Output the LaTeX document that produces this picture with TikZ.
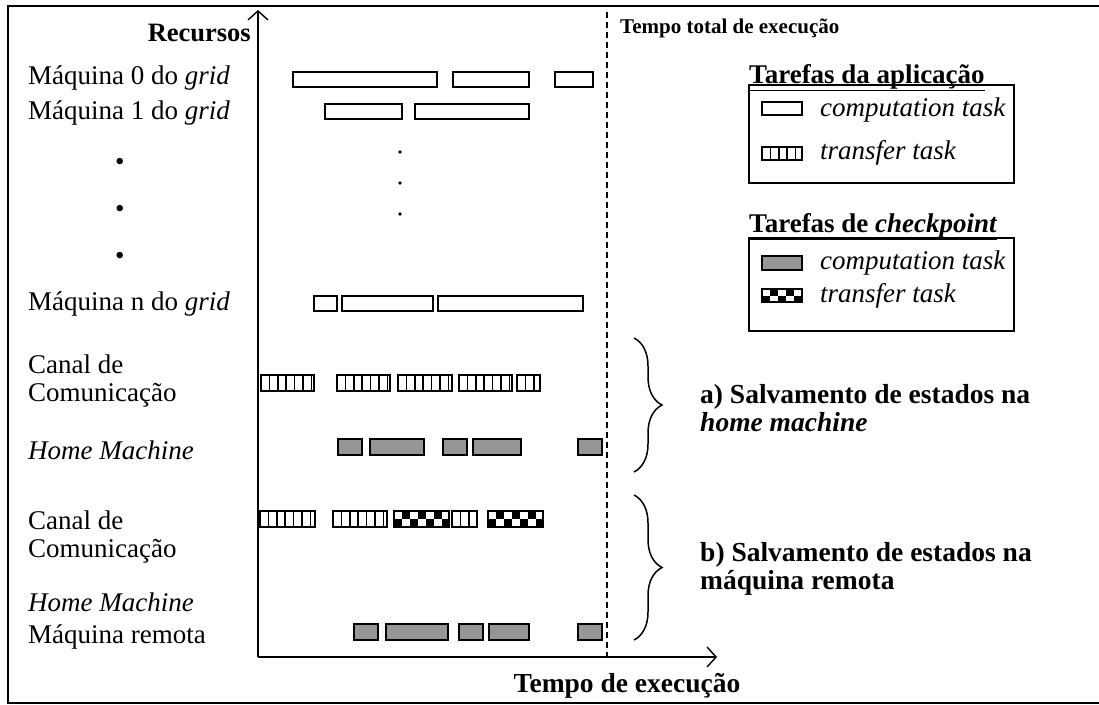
\documentclass[tikz,border=0pt]{standalone}
\usepackage{fontspec}
\setmainfont{Liberation Serif}
\usetikzlibrary{decorations.pathreplacing,arrows.meta}
\definecolor{taskgray}{RGB}{150,150,150}
\newcommand{\stripebox}[4]{%
  \begin{scope}
    \clip (#1,#2) rectangle (#3,#4);
    \foreach \k in {1,...,12}{\draw[line width=1.6pt] ({#1+\k*8.4},#2) -- ({#1+\k*8.4},#4);}
  \end{scope}
  \draw[taskline] (#1,#2) rectangle (#3,#4);}
\newcommand{\chkbox}[4]{%
  \begin{scope}
    \clip (#1,#2) rectangle (#3,#4);
    \foreach \k in {0,...,9}{\foreach \j in {0,1}{%
      \pgfmathtruncatemacro\cpar{mod(\k+\j,2)}%
      \ifnum\cpar=1 \fill ({#1+\k*8},{#2+\j*(#4-#2)/2}) rectangle ({#1+\k*8+8},{#2+(\j+1)*(#4-#2)/2});\fi}}
  \end{scope}
  \draw[taskline] (#1,#2) rectangle (#3,#4);}
\newcommand{\compbox}[4]{\draw[taskline] (#1,#2) rectangle (#3,#4);}
\newcommand{\graybox}[4]{\draw[taskline,fill=taskgray] (#1,#2) rectangle (#3,#4);}
\begin{document}
\begin{tikzpicture}[x=1pt,y=-1pt,
  taskline/.style={line width=1.7pt},
  lab/.style={anchor=west,inner sep=0pt,font=\fontsize{27}{27.5}\selectfont,align=left},
  blab/.style={anchor=west,inner sep=0pt,font=\bfseries\fontsize{27.5}{27.5}\selectfont,align=left},
  leg/.style={anchor=west,inner sep=0pt,font=\itshape\fontsize{27}{27}\selectfont},
  ttl/.style={anchor=base west,inner sep=0pt,font=\bfseries\fontsize{27}{27}\selectfont},
  axis/.style={line width=1.6pt,-{Straight Barb[length=9pt,width=20pt,line width=1.4pt]}},
  dotn/.style={circle,fill,inner sep=1.4pt},
  brc/.style={line width=1.5pt,decorate,decoration={brace,amplitude=28pt}}]
\useasboundingbox (0,0) rectangle (1099,704);
% frame
\draw[line width=1.5pt] (1110,6) -- (8,6) -- (8,703) -- (1110,703);
% axes
\coordinate (O) at (258,657);
\coordinate (ytip) at (258,10);
\coordinate (xtip) at (717,657);
\draw[axis] (O) -- (ytip);
\draw[axis] (O) -- (xtip);
\coordinate (dtop) at (607,12);
\coordinate (dbot) at (607,657);
\draw[line width=1.3pt,dash pattern=on 6pt off 4pt] (dtop) -- (dbot);
% axis labels
\node[anchor=east,inner sep=0pt,font=\bfseries\fontsize{26.5}{27}\selectfont] (rec) at (251,33) {Recursos};
\node[anchor=west,inner sep=0pt,font=\bfseries\fontsize{21}{22}\selectfont] (ttot) at (620,28) {Tempo total de execução};
\node[inner sep=0pt,font=\bfseries\fontsize{27.5}{28}\selectfont] (tex) at (627,686) {Tempo de execução};
% left labels
\node[lab] (m0) at (28,78) {Máquina 0 do \textit{grid}};
\node[lab] (m1) at (28,113) {Máquina 1 do \textit{grid}};
\node[lab] (b1) at (115,164) {•};
\node[lab] (b2) at (115,211) {•};
\node[lab] (b3) at (115,258) {•};
\node[lab] (mn) at (28,304) {Máquina n do \textit{grid}};
\node[lab] (ca) at (28,381) {Canal de\\Comunicação};
\node[lab] (ha) at (28,450) {\textit{Home Machine}};
\node[lab] (cb) at (28,537) {Canal de\\Comunicação};
\node[lab] (hb) at (28,602) {\textit{Home Machine}};
\node[lab] (mr) at (28,637) {Máquina remota};
% dots
\node[dotn] (d1) at (400,152) {};
\node[dotn] (d2) at (400,183) {};
\node[dotn] (d3) at (400,214) {};
% row 0
\compbox{293}{72}{437}{87}
\compbox{453}{72}{529}{87}
\compbox{555}{72}{593}{87}
% row 1
\compbox{325}{104}{402}{119}
\compbox{415}{104}{529}{119}
% row n
\compbox{314}{296}{337}{311}
\compbox{342}{296}{433}{311}
\compbox{438}{296}{583}{311}
% transfer a
\stripebox{261}{375}{314}{391}
\stripebox{337}{375}{390}{391}
\stripebox{398}{375}{452}{391}
\stripebox{459}{375}{512}{391}
\stripebox{517}{375}{540}{391}
% home a
\graybox{338}{439}{362}{455}
\graybox{370}{439}{424}{455}
\graybox{443}{439}{467}{455}
\graybox{473}{439}{521}{455}
\graybox{578}{439}{602}{455}
% transfer b
\stripebox{260}{511}{315}{527}
\stripebox{333}{511}{387}{527}
\chkbox{394}{511}{449}{527}
\stripebox{452}{511}{477}{527}
\chkbox{488}{511}{543}{527}
% remota
\graybox{354}{624}{378}{640}
\graybox{386}{624}{448}{640}
\graybox{459}{624}{483}{640}
\graybox{489}{624}{529}{640}
\graybox{578}{624}{602}{640}
% legend 1
\node[ttl] (lt1) at (749,83) {\underline{Tarefas da aplicação}};
\draw[line width=1.6pt] (749,85) rectangle (1014,183);
\compbox{762}{102}{802}{115}
\node[leg] (lc1) at (820,110) {computation task};
\stripebox{762}{147}{802}{160}
\node[leg] (lx1) at (820,153) {transfer task};
% legend 2
\node[ttl] (lt2) at (749,232) {\underline{Tarefas de \textit{checkpoint}}};
\draw[line width=1.6pt] (749,238) rectangle (1014,331);
\graybox{762}{256}{802}{270}
\node[leg] (lc2) at (820,263) {computation task};
\chkbox{762}{289}{802}{302}
\node[leg] (lx2) at (820,296) {transfer task};
% braces
\coordinate (ba1) at (634,338);
\coordinate (ba2) at (634,472);
\draw[brc] (ba1) -- (ba2);
\coordinate (bb1) at (634,495);
\coordinate (bb2) at (634,640);
\draw[brc] (bb1) -- (bb2);
\node[blab] (ta) at (700,408) {a) Salvamento de estados na\\\textit{home machine}};
\node[blab] (tb) at (700,569) {b) Salvamento de estados na\\máquina remota};
\end{tikzpicture}
\end{document}
